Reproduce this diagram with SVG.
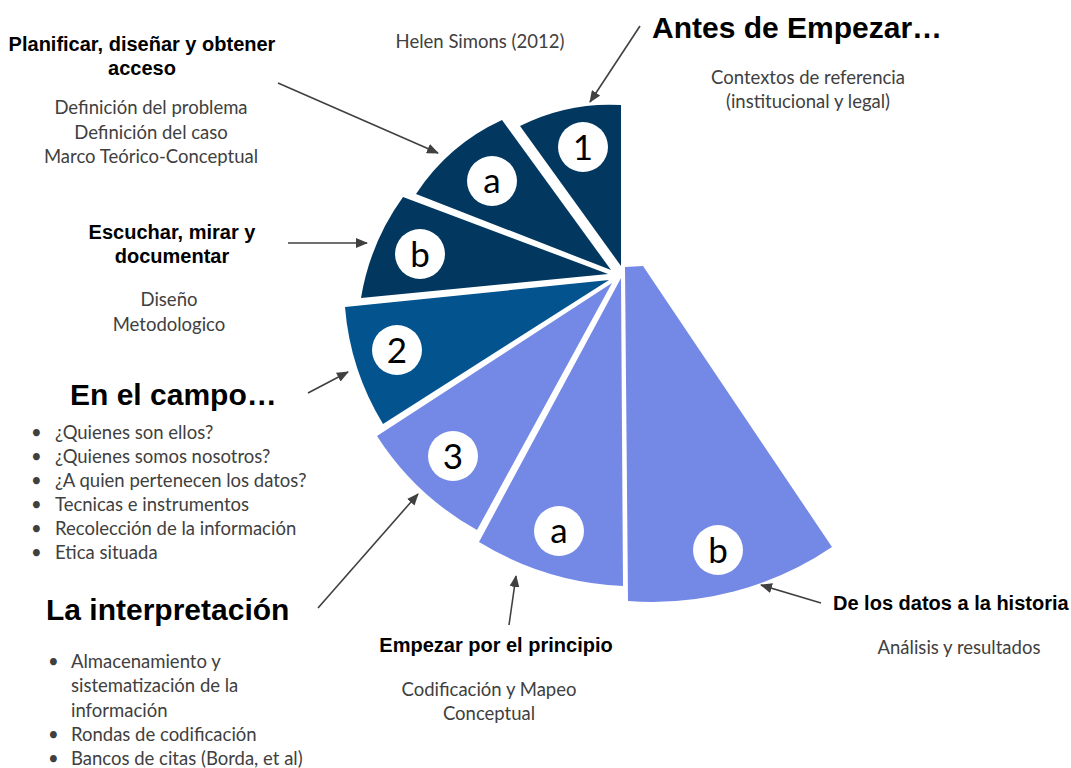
<svg xmlns="http://www.w3.org/2000/svg" width="1071" height="768" viewBox="0 0 1071 768">
<defs>
<style>
.t{font-family:"Liberation Sans",Arial,sans-serif;font-weight:bold;fill:#000}
.h{font-size:30px}
.s{font-size:20px}
.m{text-anchor:middle}
.g{font-family:Lato,"Noto Sans",sans-serif;font-size:18.5px;fill:#404040}
.dk{fill:#023860}
.md{fill:#02538E}
.lt{fill:#7489E6}
.c{fill:#fff}
.n{font-family:Lato,"Noto Sans",sans-serif;font-size:35px;fill:#000;text-anchor:middle}
.ar{stroke:#404040;stroke-width:1.6;fill:none;marker-end:url(#ah)}
</style>
<marker id="ah" markerUnits="userSpaceOnUse" markerWidth="12" markerHeight="10" refX="11" refY="5" orient="auto"><path d="M0,0 L12,5 L0,10 Z" fill="#404040"/></marker>
</defs>
<rect width="1071" height="768" fill="#fff"/>

<g id="wedge-1">
<path class="dk" d="M621,266 L621,105 A200,200 0 0,0 520,126 Z"/>
<circle class="c" cx="583" cy="147" r="25"/><text class="n" x="583" y="160">1</text>
</g>
<g id="wedge-1a">
<path class="dk" d="M611,270 L502,120 A205,205 0 0,0 416,194 Z"/>
<circle class="c" cx="492" cy="181" r="25"/><text class="n" x="492" y="193">a</text>
</g>
<g id="wedge-1b">
<path class="dk" d="M608,274 L403,197 A240,240 0 0,0 361,298 Z"/>
<circle class="c" cx="420" cy="254" r="25"/><text class="n" x="420" y="267">b</text>
</g>
<g id="wedge-2">
<path class="md" d="M609,280 L345,307 A266,266 0 0,0 383,424 Z"/>
<circle class="c" cx="397" cy="350" r="25"/><text class="n" x="397" y="363">2</text>
</g>
<g id="wedge-3">
<path class="lt" d="M612,283 L377,436 A281,281 0 0,0 477,530 Z"/>
<circle class="c" cx="453" cy="456" r="25"/><text class="n" x="453" y="469">3</text>
</g>
<g id="wedge-3a">
<path class="lt" d="M621,278 L479,542 A304,304 0 0,0 623,586 Z"/>
<circle class="c" cx="559" cy="531" r="25"/><text class="n" x="559" y="543">a</text>
</g>
<g id="wedge-3b">
<path class="lt" d="M625,267 L643,266 L832,547 A320,320 0 0,1 628,601 Z"/>
<circle class="c" cx="718" cy="550" r="25"/><text class="n" x="718" y="563">b</text>
</g>

<g id="source">
<text class="g m" x="480" y="48">Helen Simons (2012)</text>
</g>
<g id="antes">
<text class="t h" x="652" y="38">Antes de Empezar…</text>
<text class="g m" x="808" y="84">Contextos de referencia</text>
<text class="g m" x="808" y="108">(institucional y legal)</text>
</g>
<g id="planificar">
<text class="t s m" x="142" y="51">Planificar, diseñar y obtener</text>
<text class="t s m" x="142" y="75">acceso</text>
<text class="g m" x="151" y="114">Definición del problema</text>
<text class="g m" x="151" y="139">Definición del caso</text>
<text class="g m" x="151" y="163">Marco Teórico-Conceptual</text>
</g>
<g id="escuchar">
<text class="t s m" x="172" y="239">Escuchar, mirar y</text>
<text class="t s m" x="172" y="263">documentar</text>
<text class="g m" x="169" y="306">Diseño</text>
<text class="g m" x="169" y="331">Metodologico</text>
</g>
<g id="campo">
<text class="t h" x="70" y="405">En el campo…</text>
<g class="g">
<text x="31" y="439">•</text><text x="55" y="439">¿Quienes son ellos?</text>
<text x="31" y="463">•</text><text x="55" y="463">¿Quienes somos nosotros?</text>
<text x="31" y="487">•</text><text x="55" y="487">¿A quien pertenecen los datos?</text>
<text x="31" y="511">•</text><text x="55" y="511">Tecnicas e instrumentos</text>
<text x="31" y="535">•</text><text x="55" y="535">Recolección de la información</text>
<text x="31" y="559">•</text><text x="55" y="559">Etica situada</text>
</g>
</g>
<g id="interpretacion">
<text class="t h" x="46" y="620">La interpretación</text>
<g class="g">
<text x="48" y="668">•</text><text x="71" y="668">Almacenamiento y</text>
<text x="71" y="692">sistematización de la</text>
<text x="71" y="717">información</text>
<text x="48" y="741">•</text><text x="71" y="741">Rondas de codificación</text>
<text x="48" y="765">•</text><text x="71" y="765">Bancos de citas (Borda, et al)</text>
</g>
</g>
<g id="empezar">
<text class="t s m" x="496" y="652">Empezar por el principio</text>
<text class="g m" x="489" y="696">Codificación y Mapeo</text>
<text class="g m" x="489" y="720">Conceptual</text>
</g>
<g id="datos">
<text class="t s" x="833" y="610">De los datos a la historia</text>
<text class="g m" x="959" y="654">Análisis y resultados</text>
</g>

<g id="connectors">
<line class="ar" x1="640" y1="26" x2="590" y2="102"/>
<line class="ar" x1="278" y1="83" x2="438" y2="153"/>
<line class="ar" x1="288" y1="243" x2="367" y2="243"/>
<line class="ar" x1="308" y1="393" x2="348" y2="372"/>
<line class="ar" x1="318" y1="608" x2="418" y2="494"/>
<line class="ar" x1="509" y1="625" x2="516" y2="576"/>
<line class="ar" x1="821" y1="603" x2="761" y2="585"/>
</g>
</svg>
